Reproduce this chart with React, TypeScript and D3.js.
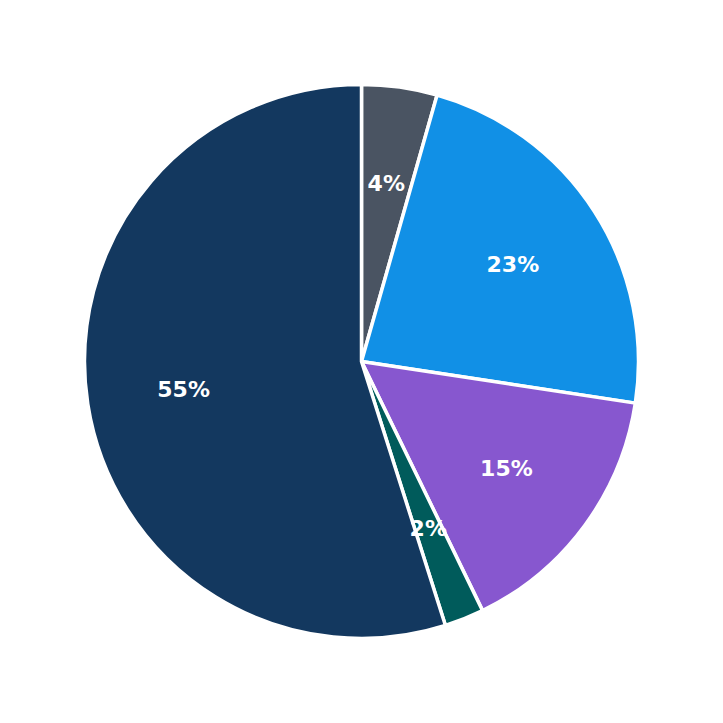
import React from 'react';
import * as d3 from 'd3';

const categories = ['A', 'B', 'C', 'D', 'E'];
const values = [4.4, 23.0, 15.4, 2.3, 54.9];
const colors = ['#4a5462', '#1190e6', '#8757cf', '#005b5b', '#13385f'];

const W = 723;
const H = 723;

const App: React.FC = () => {
  const cx = 361.5;
  const cy = 361.5;
  const radius = 277;

  const data = categories.map((c, i) => ({ label: c, value: values[i], color: colors[i] }));
  const total = d3.sum(values);

  const pie = d3.pie<{ label: string; value: number; color: string }>()
    .value(d => d.value)
    .sort(null);
  const arcs = pie(data);

  const arc = d3.arc<d3.PieArcDatum<any>>().innerRadius(0).outerRadius(radius);
  const labelArc = d3.arc<d3.PieArcDatum<any>>().innerRadius(180).outerRadius(180);

  return (
    <svg width={W} height={H} style={{ position: 'absolute', left: 0, top: 0 }}>
      <rect width={W} height={H} fill="#ffffff" />
      <g transform={`translate(${cx},${cy})`}>
        {arcs.map((a, i) => (
          <path key={i} d={arc(a) || ''} fill={a.data.color} stroke="#ffffff" strokeWidth={3.5} strokeLinejoin="round" />
        ))}
        {arcs.map((a, i) => {
          const [x, y] = labelArc.centroid(a);
          return (
            <text
              key={'t' + i}
              x={x}
              y={y}
              textAnchor="middle"
              dominantBaseline="central"
              fill="#ffffff"
              fontFamily="DejaVu Sans, sans-serif"
              fontWeight="bold"
              fontSize={22}
            >
              {Math.round((a.data.value / total) * 100)}%
            </text>
          );
        })}
      </g>
    </svg>
  );
};

export default App;
